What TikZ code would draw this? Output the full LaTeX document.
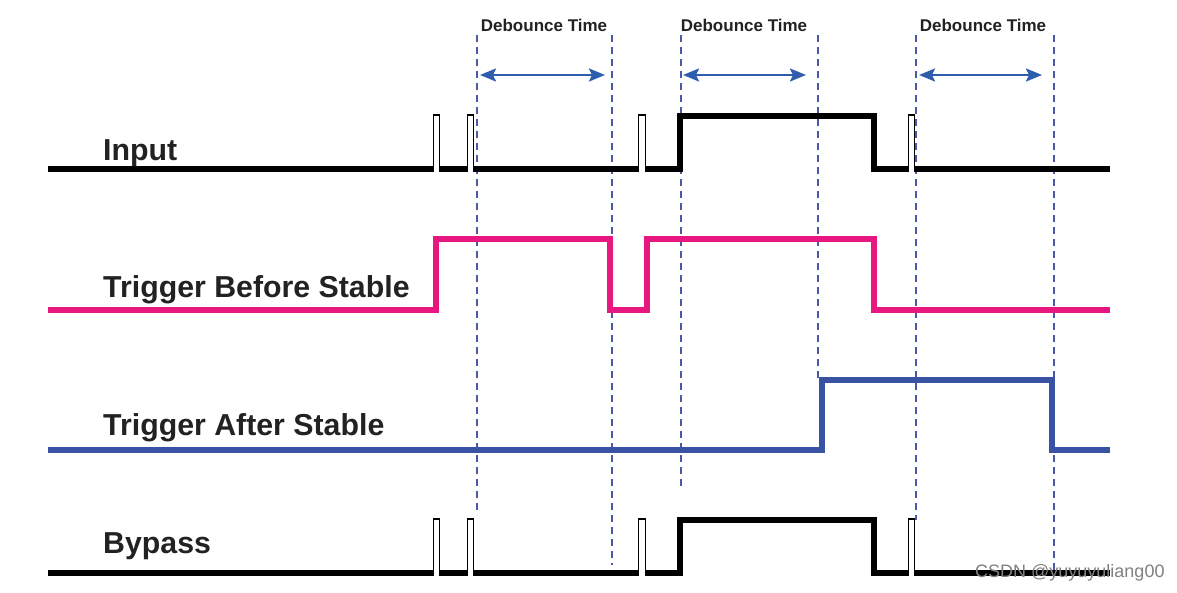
\documentclass[tikz,border=0pt]{standalone}
\usepackage{fontspec}
\setmainfont{Liberation Sans}
\usetikzlibrary{arrows.meta}
\definecolor{sigpink}{HTML}{E8177F}
\definecolor{sigblue}{HTML}{3A52A4}
\definecolor{dashblue}{HTML}{4A5AA8}
\definecolor{arrblue}{HTML}{2F5DAE}
\definecolor{labtext}{HTML}{222222}
\tikzset{
  sig/.style={line width=5.5pt, line join=miter, line cap=butt},
  spike/.style={line width=1.8pt, line join=miter},
  guide/.style={dashblue, line width=1.6pt, dash pattern=on 7pt off 5pt},
  span/.style={arrblue, line width=2.2pt, {Stealth[length=16pt,width=13pt,inset=3pt]}-{Stealth[length=16pt,width=13pt,inset=3pt]}},
  siglabel/.style={anchor=west, inner sep=0pt, text=labtext, font=\fontsize{30.3}{33}\selectfont\bfseries},
  toplabel/.style={inner sep=0pt, text=labtext, font=\fontsize{17}{19}\selectfont\bfseries},
}
\begin{document}
\begin{tikzpicture}[x=1pt,y=-1pt]
\useasboundingbox (0,0) rectangle (1177,593);
\fill[white] (0,0) rectangle (1177,593);

% guides
\draw[guide] (477,35) -- (477,515);
\draw[guide] (612,35) -- (612,565);
\draw[guide] (681,35) -- (681,490);
\draw[guide] (818,35) -- (818,378);
\draw[guide] (916,35) -- (916,520);
\draw[guide] (1054,35) -- (1054,575);

% top labels and arrows
\node[toplabel] (d1) at (544,25) {Debounce Time};
\node[toplabel] (d2) at (744,25) {Debounce Time};
\node[toplabel] (d3) at (983,25) {Debounce Time};
\coordinate (a1l) at (480,75); \coordinate (a1r) at (605,75);
\coordinate (a2l) at (683,75); \coordinate (a2r) at (806,75);
\coordinate (a3l) at (919,75); \coordinate (a3r) at (1042,75);
\draw[span] (a1l) -- (a1r);
\draw[span] (a2l) -- (a2r);
\draw[span] (a3l) -- (a3r);

% Input and Bypass
\foreach \dy in {0,404}{
  \begin{scope}[yshift=-\dy pt]
    \draw[sig] (48,169) -- (434,169);
    \draw[spike] (433.5,170) -- (433.5,115) -- (439.5,115) -- (439.5,170);
    \draw[sig] (439,169) -- (468,169);
    \draw[spike] (467.5,170) -- (467.5,115) -- (473.5,115) -- (473.5,170);
    \draw[sig] (473,169) -- (639,169);
    \draw[spike] (638.5,170) -- (638.5,115) -- (645.5,115) -- (645.5,170);
    \draw[sig] (645,169) -- (680,169) -- (680,116) -- (874,116) -- (874,169) -- (909,169);
    \draw[spike] (908.5,170) -- (908.5,115) -- (914.5,115) -- (914.5,170);
    \draw[sig] (914,169) -- (1110,169);
  \end{scope}
}

% Trigger Before Stable
\draw[sig, sigpink] (48,310) -- (436,310) -- (436,239) -- (610,239) -- (610,310) -- (647,310) -- (647,239) -- (874,239) -- (874,310) -- (1110,310);

% Trigger After Stable
\draw[sig, sigblue] (48,450) -- (822,450) -- (822,380) -- (1052,380) -- (1052,450) -- (1110,450);

% labels
\node[siglabel] (lin) at (103,153) {Input};
\node[siglabel] (lbs) at (103,290) {Trigger Before Stable};
\node[siglabel] (las) at (103,428) {Trigger After Stable};
\node[siglabel] (lby) at (103,546) {Bypass};

% watermark
\node[anchor=west, inner sep=0pt, text=black!50, font=\fontsize{18}{20}\selectfont] (wm) at (975,573) {CSDN @yuyuyuliang00};
\end{tikzpicture}
\end{document}
